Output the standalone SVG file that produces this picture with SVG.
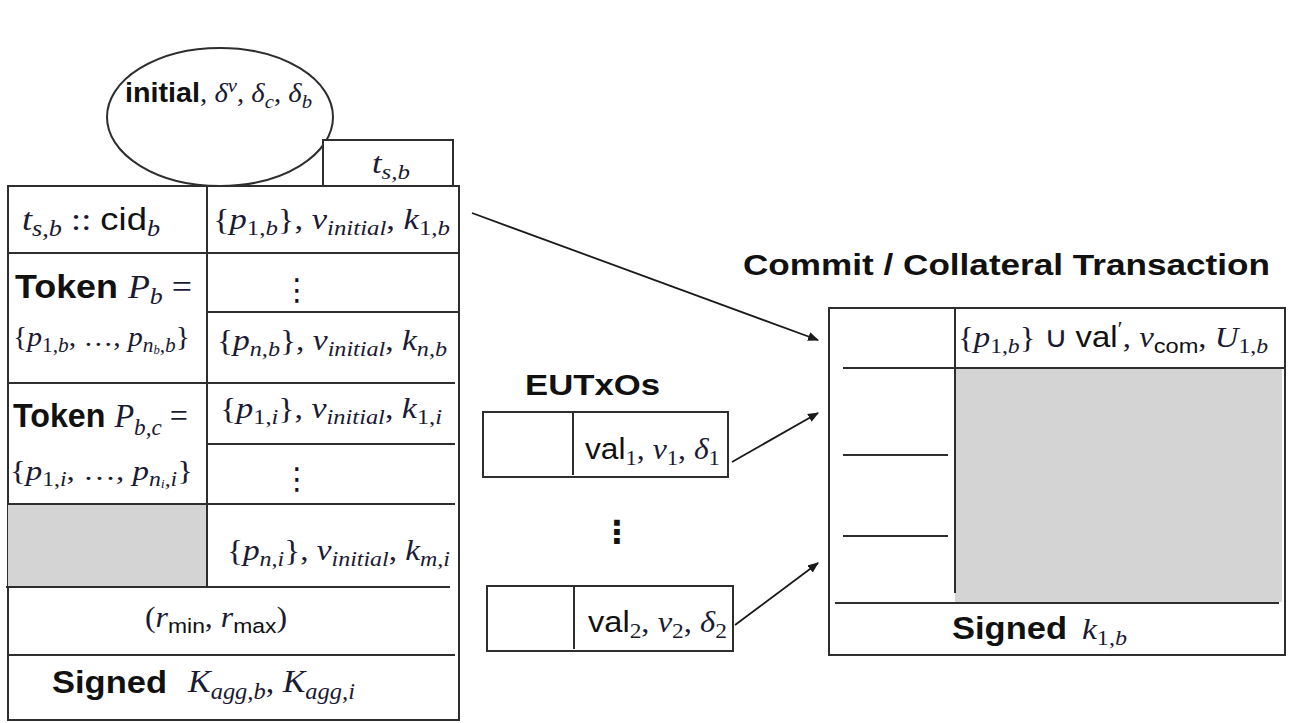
<svg xmlns="http://www.w3.org/2000/svg" width="1297" height="723" viewBox="0 0 1297 723">
  <style>
    .ln { stroke: #2e2e2e; stroke-width: 2; fill: none; }
    .box { stroke: #2e2e2e; stroke-width: 2; fill: #ffffff; }
    .gray { fill: #d4d4d4; stroke: none; }
    .arrow { stroke: #1a1a1a; stroke-width: 1.8; fill: none; marker-end: url(#head); }
    text { fill: #111111; font-family: "Liberation Serif", "Times New Roman", serif; }
    .b { font-family: "Liberation Sans", Arial, sans-serif; font-weight: bold; }
    .sf { font-family: "Liberation Sans", Arial, sans-serif; }
    .i { font-family: "Liberation Serif", "Times New Roman", serif; font-style: italic; fill: #1a1a33; }
    .r { font-family: "Liberation Serif", "Times New Roman", serif; fill: #1a1a33; }
    .sm { font-size: 72%; }
    .dots { font-family: "DejaVu Sans", sans-serif; }
  </style>
  <defs>
    <marker id="head" viewBox="0 0 10 10" refX="9" refY="5" markerWidth="11" markerHeight="9" orient="auto" markerUnits="userSpaceOnUse" preserveAspectRatio="none">
      <path d="M0,0 L10,5 L0,10 Z" fill="#1a1a1a"/>
    </marker>
  </defs>

  <!-- initial-parameters ellipse -->
  <g id="params">
    <ellipse cx="220" cy="117" rx="113" ry="69" class="box"/>
    <text x="125" y="102" font-size="27" textLength="187" lengthAdjust="spacingAndGlyphs"><tspan class="b">initial</tspan><tspan class="r">, </tspan><tspan class="i">δ</tspan><tspan class="i sm" dy="-10">v</tspan><tspan class="r" dy="10">, </tspan><tspan class="i">δ</tspan><tspan class="i sm" dy="6">c</tspan><tspan class="r" dy="-6">, </tspan><tspan class="i">δ</tspan><tspan class="i sm" dy="6">b</tspan></text>
  </g>

  <!-- timestamp tab -->
  <g id="timestamp">
    <rect x="323" y="140" width="130" height="46" class="box"/>
    <text x="372" y="173" font-size="29" textLength="38" lengthAdjust="spacingAndGlyphs"><tspan class="i">t</tspan><tspan class="i sm" dy="6">s,b</tspan></text>
  </g>

  <!-- initial transaction table -->
  <g id="initial-tx">
    <rect x="8" y="186" width="451" height="534" class="box"/>
    <rect x="8" y="504" width="199" height="83" class="gray"/>
    <line x1="207" y1="186" x2="207" y2="587" class="ln"/>
    <line x1="8" y1="253" x2="459" y2="253" class="ln"/>
    <line x1="207" y1="312" x2="459" y2="312" class="ln"/>
    <line x1="8" y1="383" x2="455" y2="383" class="ln"/>
    <line x1="207" y1="444" x2="455" y2="444" class="ln"/>
    <line x1="8" y1="504" x2="455" y2="504" class="ln"/>
    <line x1="6" y1="587" x2="450" y2="587" class="ln"/>
    <line x1="8" y1="655" x2="455" y2="655" class="ln"/>

    <text x="22" y="230" font-size="31" textLength="138" lengthAdjust="spacingAndGlyphs"><tspan class="i">t</tspan><tspan class="i sm" dy="6">s,b</tspan><tspan class="r" dy="-6"> :: </tspan><tspan class="sf">cid</tspan><tspan class="i sm" dy="6">b</tspan></text>
    <text x="213" y="229" font-size="29" textLength="237" lengthAdjust="spacingAndGlyphs"><tspan class="r">{</tspan><tspan class="i">p</tspan><tspan class="r sm" dy="6">1,</tspan><tspan class="i sm">b</tspan><tspan class="r" dy="-6">}, </tspan><tspan class="i">ν</tspan><tspan class="i sm" dy="6">initial</tspan><tspan class="r" dy="-6">, </tspan><tspan class="i">k</tspan><tspan class="r sm" dy="6">1,</tspan><tspan class="i sm">b</tspan></text>

    <text x="15" y="298" font-size="33" textLength="177" lengthAdjust="spacingAndGlyphs"><tspan class="b">Token </tspan><tspan class="i">P</tspan><tspan class="i sm" dy="6">b</tspan><tspan class="r" dy="-6"> =</tspan></text>
    <text x="13" y="346" font-size="28" textLength="177" lengthAdjust="spacingAndGlyphs"><tspan class="r">{</tspan><tspan class="i">p</tspan><tspan class="r sm" dy="6">1,</tspan><tspan class="i sm">b</tspan><tspan class="r" dy="-6">, …, </tspan><tspan class="i">p</tspan><tspan class="i sm" dy="6">n</tspan><tspan class="i" font-size="12" dy="2">b</tspan><tspan class="i sm" dy="-2">,b</tspan><tspan class="r" dy="-6">}</tspan></text>
    <text x="297" y="300" font-size="30" text-anchor="middle" class="dots">⋮</text>
    <text x="217" y="350" font-size="29" textLength="230" lengthAdjust="spacingAndGlyphs"><tspan class="r">{</tspan><tspan class="i">p</tspan><tspan class="i sm" dy="6">n,b</tspan><tspan class="r" dy="-6">}, </tspan><tspan class="i">ν</tspan><tspan class="i sm" dy="6">initial</tspan><tspan class="r" dy="-6">, </tspan><tspan class="i">k</tspan><tspan class="i sm" dy="6">n,b</tspan></text>

    <text x="13" y="427" font-size="33" textLength="175" lengthAdjust="spacingAndGlyphs"><tspan class="b">Token </tspan><tspan class="i">P</tspan><tspan class="i sm" dy="8">b,c</tspan><tspan class="r" dy="-8"> =</tspan></text>
    <text x="10" y="480" font-size="28" textLength="183" lengthAdjust="spacingAndGlyphs"><tspan class="r">{</tspan><tspan class="i">p</tspan><tspan class="r sm" dy="6">1,</tspan><tspan class="i sm">i</tspan><tspan class="r" dy="-6">, …, </tspan><tspan class="i">p</tspan><tspan class="i sm" dy="6">n</tspan><tspan class="i" font-size="12" dy="2">i</tspan><tspan class="i sm" dy="-2">,i</tspan><tspan class="r" dy="-6">}</tspan></text>
    <text x="220" y="418" font-size="29" textLength="222" lengthAdjust="spacingAndGlyphs"><tspan class="r">{</tspan><tspan class="i">p</tspan><tspan class="r sm" dy="6">1,</tspan><tspan class="i sm">i</tspan><tspan class="r" dy="-6">}, </tspan><tspan class="i">ν</tspan><tspan class="i sm" dy="6">initial</tspan><tspan class="r" dy="-6">, </tspan><tspan class="i">k</tspan><tspan class="r sm" dy="6">1,</tspan><tspan class="i sm">i</tspan></text>
    <text x="297" y="489" font-size="30" text-anchor="middle" class="dots">⋮</text>

    <text x="227" y="560" font-size="29" textLength="223" lengthAdjust="spacingAndGlyphs"><tspan class="r">{</tspan><tspan class="i">p</tspan><tspan class="i sm" dy="6">n,i</tspan><tspan class="r" dy="-6">}, </tspan><tspan class="i">ν</tspan><tspan class="i sm" dy="6">initial</tspan><tspan class="r" dy="-6">, </tspan><tspan class="i">k</tspan><tspan class="i sm" dy="6">m,i</tspan></text>

    <text x="145" y="627" font-size="29" textLength="142" lengthAdjust="spacingAndGlyphs"><tspan class="r">(</tspan><tspan class="i">r</tspan><tspan class="sf sm" dy="6">min</tspan><tspan class="r" dy="-6">, </tspan><tspan class="i">r</tspan><tspan class="sf sm" dy="6">max</tspan><tspan class="r" dy="-6">)</tspan></text>

    <text x="52" y="693" font-size="31" textLength="115" lengthAdjust="spacingAndGlyphs" class="b">Signed</text>
    <text x="188" y="692" font-size="32" textLength="167" lengthAdjust="spacingAndGlyphs"><tspan class="i">K</tspan><tspan class="i sm" dy="7">agg,b</tspan><tspan class="r" dy="-7">, </tspan><tspan class="i">K</tspan><tspan class="i sm" dy="7">agg,i</tspan></text>
  </g>

  <!-- unspent outputs -->
  <g id="eutxos">
    <text x="525" y="395" font-size="29" textLength="135" lengthAdjust="spacingAndGlyphs" class="b">EUTxOs</text>
    <rect x="483" y="412" width="245" height="65" class="box"/>
    <line x1="573" y1="412" x2="573" y2="475" class="ln"/>
    <text x="585" y="459" font-size="29" textLength="135" lengthAdjust="spacingAndGlyphs"><tspan class="sf">val</tspan><tspan class="r sm" dy="6">1</tspan><tspan class="r" dy="-6">, </tspan><tspan class="i">ν</tspan><tspan class="r sm" dy="6">1</tspan><tspan class="r" dy="-6">, </tspan><tspan class="i">δ</tspan><tspan class="r sm" dy="6">1</tspan></text>
    <text x="617" y="543" font-size="32" text-anchor="middle" class="dots" font-weight="bold">⋮</text>
    <rect x="487" y="586" width="246" height="65" class="box"/>
    <line x1="574" y1="586" x2="574" y2="649" class="ln"/>
    <text x="588" y="632" font-size="29" textLength="139" lengthAdjust="spacingAndGlyphs"><tspan class="sf">val</tspan><tspan class="r sm" dy="6">2</tspan><tspan class="r" dy="-6">, </tspan><tspan class="i">ν</tspan><tspan class="r sm" dy="6">2</tspan><tspan class="r" dy="-6">, </tspan><tspan class="i">δ</tspan><tspan class="r sm" dy="6">2</tspan></text>
  </g>

  <!-- commit / collateral transaction -->
  <g id="commit-tx">
    <text x="743" y="275" font-size="29" textLength="527" lengthAdjust="spacingAndGlyphs" class="b">Commit / Collateral Transaction</text>
    <rect x="829" y="308" width="456" height="347" class="box"/>
    <rect x="955" y="368" width="327" height="234" class="gray"/>
    <line x1="955" y1="308" x2="955" y2="593" class="ln"/>
    <line x1="843" y1="368" x2="1285" y2="368" class="ln"/>
    <line x1="843" y1="455" x2="948" y2="455" class="ln"/>
    <line x1="843" y1="536" x2="948" y2="536" class="ln"/>
    <line x1="835" y1="603" x2="1279" y2="603" class="ln"/>
    <text x="958" y="347" font-size="29" textLength="310" lengthAdjust="spacingAndGlyphs"><tspan class="r">{</tspan><tspan class="i">p</tspan><tspan class="r sm" dy="6">1,</tspan><tspan class="i sm">b</tspan><tspan class="r" dy="-6">} ∪ </tspan><tspan class="sf">val</tspan><tspan class="r sm" dy="-11">′</tspan><tspan class="r" dy="11">, </tspan><tspan class="i">ν</tspan><tspan class="sf sm" dy="6">com</tspan><tspan class="r" dy="-6">, </tspan><tspan class="i">U</tspan><tspan class="r sm" dy="6">1,</tspan><tspan class="i sm">b</tspan></text>
    <text x="952" y="639" font-size="31" textLength="115" lengthAdjust="spacingAndGlyphs" class="b">Signed</text>
    <text x="1082" y="639" font-size="29" textLength="45" lengthAdjust="spacingAndGlyphs"><tspan class="i">k</tspan><tspan class="r sm" dy="6">1,</tspan><tspan class="i sm">b</tspan></text>
  </g>

  <!-- connectors -->
  <g id="connectors">
    <line x1="472" y1="213" x2="818" y2="340" class="arrow"/>
    <line x1="732" y1="462" x2="818" y2="413" class="arrow"/>
    <line x1="735" y1="625" x2="818" y2="563" class="arrow"/>
  </g>
</svg>
